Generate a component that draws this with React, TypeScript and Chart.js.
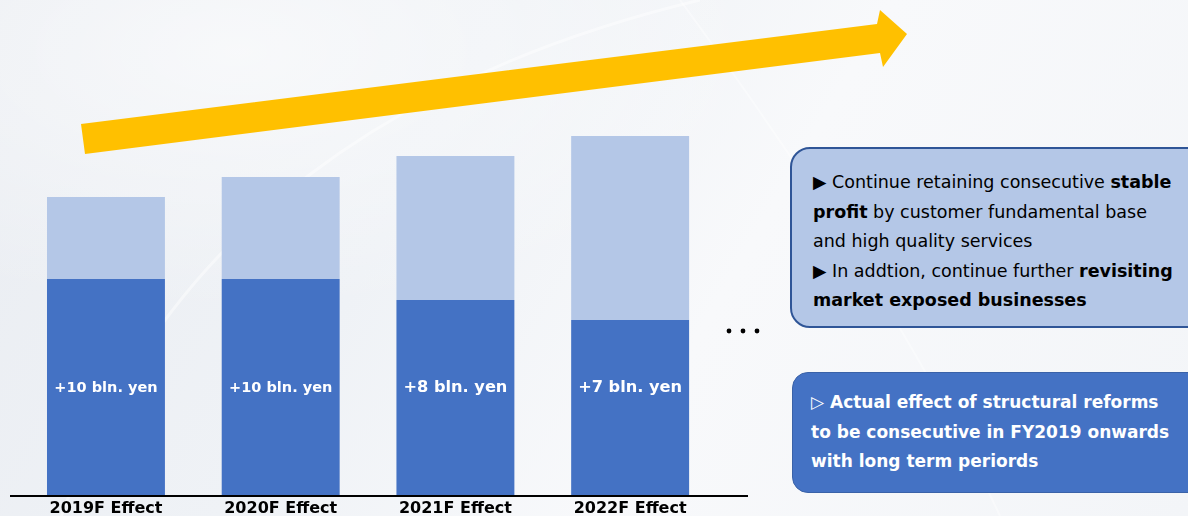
import React, { useEffect, useRef } from "react";
import { Chart, registerables } from "chart.js";

Chart.register(...registerables);

const categories = ["2019F Effect", "2020F Effect", "2021F Effect", "2022F Effect"];
const baseValues = [21.6, 21.6, 19.5, 17.5];
const addedValues = [8.2, 10.2, 14.4, 18.4];
const barLabels = ["+10 bln. yen", "+10 bln. yen", "+8 bln. yen", "+7 bln. yen"];
const barLabelSizes = [14.5, 14.5, 16.2, 16.2];
const barLabelLevel = 10.7;
const yMax = 37.5;

const FONT = "'DejaVu Sans', Verdana, sans-serif";

const overlayPlugin = {
  id: "overlay",
  afterDatasetsDraw(chart: any) {
    const ctx = chart.ctx;
    const meta = chart.getDatasetMeta(0);
    const y = chart.scales.y;
    ctx.save();
    ctx.fillStyle = "#ffffff";
    ctx.textAlign = "center";
    ctx.textBaseline = "middle";
    meta.data.forEach((bar: any, i: number) => {
      ctx.font = `bold ${barLabelSizes[i]}px ${FONT}`;
      ctx.fillText(barLabels[i], bar.x, y.getPixelForValue(barLabelLevel));
    });
    const base = y.getPixelForValue(0);
    ctx.strokeStyle = "#000000";
    ctx.lineWidth = 2;
    ctx.beginPath();
    ctx.moveTo(10, base + 1);
    ctx.lineTo(748, base + 1);
    ctx.stroke();
    ctx.restore();
  },
};

function BarChart() {
  const ref = useRef<HTMLCanvasElement>(null);
  useEffect(() => {
    if (!ref.current) return;
    const chart = new Chart(ref.current, {
      type: "bar",
      data: {
        labels: categories,
        datasets: [
          {
            label: "base",
            data: baseValues,
            backgroundColor: "#4472c4",
            borderWidth: 0,
            barPercentage: 0.675,
            categoryPercentage: 1,
          },
          {
            label: "added",
            data: addedValues,
            backgroundColor: "#b4c7e7",
            borderWidth: 0,
            barPercentage: 0.675,
            categoryPercentage: 1,
          },
        ],
      },
      options: {
        responsive: false,
        animation: false,
        devicePixelRatio: 1,
        layout: { padding: { left: 18.6, right: 42.5, top: 120, bottom: 0 } },
        plugins: { legend: { display: false }, tooltip: { enabled: false } },
        scales: {
          x: {
            stacked: true,
            grid: { display: false, drawTicks: false },
            border: { display: false },
            ticks: {
              color: "#000000",
              padding: 4,
              font: { family: FONT, size: 16, weight: "bold" },
            },
            afterFit: (scale: any) => {
              scale.height = 21;
            },
          },
          y: {
            stacked: true,
            display: false,
            min: 0,
            max: yMax,
          },
        },
      },
      plugins: [overlayPlugin],
    });
    return () => chart.destroy();
  }, []);
  return <canvas ref={ref} width={760} height={516} style={{ position: "absolute", left: 0, top: 0, width: 760, height: 516 }} />;
}

export default function App() {
  const boxText: React.CSSProperties = {
    fontFamily: FONT,
    fontSize: 17,
    lineHeight: "29.5px",
    position: "absolute",
    whiteSpace: "nowrap",
  };
  return (
    <div
      style={{
        position: "fixed",
        left: 0,
        top: 0,
        width: 1188,
        height: 516,
        overflow: "hidden",
        background:
          "radial-gradient(ellipse at 20% 10%, rgba(255,255,255,0.6), rgba(255,255,255,0) 40%), linear-gradient(120deg, #eaedf2 0%, #eff2f6 35%, #f8f9fb 60%, #f3f5f8 100%)",
      }}
    >
      <svg width={1188} height={516} style={{ position: "absolute", left: 0, top: 0 }}>
        <path d="M 60 520 Q 200 120 700 0" stroke="rgba(255,255,255,0.45)" strokeWidth={3} fill="none" />
        <path d="M 680 0 Q 900 300 1000 516" stroke="rgba(255,255,255,0.4)" strokeWidth={2} fill="none" />
        <polygon
          points="81,124 877,24 880,10 907,34 883,67 880,53 85,154"
          fill="#ffc000"
        />
        <circle cx={729} cy={331} r={2.4} fill="#000" />
        <circle cx={743} cy={331} r={2.4} fill="#000" />
        <circle cx={757} cy={331} r={2.4} fill="#000" />
      </svg>
      <BarChart />
      <div
        style={{
          position: "absolute",
          left: 790,
          top: 147,
          width: 420,
          height: 181,
          boxSizing: "border-box",
          background: "#b4c7e7",
          border: "2px solid #2f5597",
          borderRadius: 20,
        }}
      >
        <div style={{ ...boxText, fontSize: 17.5, left: 21, top: 19, color: "#000" }}>
          ▶ Continue retaining consecutive <b>stable</b>
          <br />
          <b>profit</b> by customer fundamental base
          <br />
          and high quality services
          <br />
          ▶ In addtion, continue further <b>revisiting</b>
          <br />
          <b>market exposed businesses</b>
        </div>
      </div>
      <div
        style={{
          position: "absolute",
          left: 792,
          top: 372,
          width: 420,
          height: 121,
          boxSizing: "border-box",
          background: "#4472c4",
          border: "1.5px solid #3a62a8",
          borderRadius: 16,
        }}
      >
        <div style={{ ...boxText, left: 18, top: 15, color: "#fff", fontWeight: "bold" }}>
          ▷ Actual effect of structural reforms
          <br />
          to be consecutive in FY2019 onwards
          <br />
          with long term periords
        </div>
      </div>
    </div>
  );
}
